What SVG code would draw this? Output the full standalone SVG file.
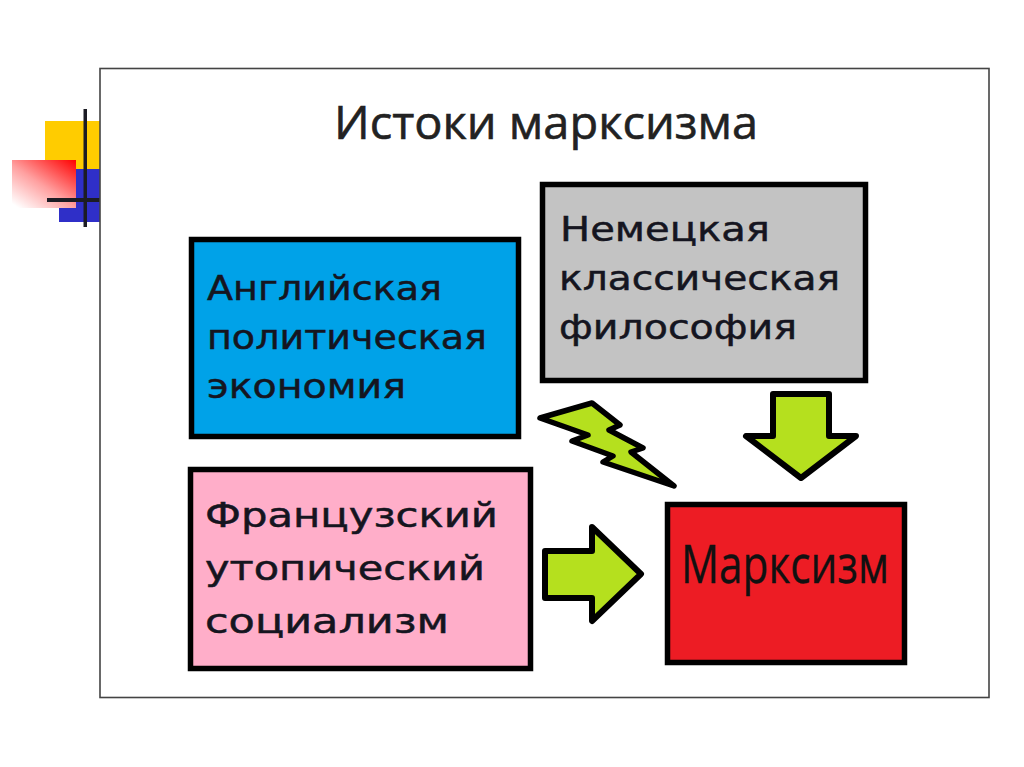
<svg xmlns="http://www.w3.org/2000/svg" width="1024" height="767" viewBox="0 0 1024 767">
<defs>
<linearGradient id="fade" x1="1" y1="0" x2="0.1" y2="1"><stop offset="0" stop-color="#ff0000"/><stop offset="0.55" stop-color="#ffa0a0"/><stop offset="1" stop-color="#ffffff"/></linearGradient>
</defs>
<style>
.box{stroke:#000;stroke-width:5.500}
.arrow{fill:#b5e01e;stroke:#000;stroke-width:6;stroke-linejoin:round}
.t{font-family:"DejaVu Sans","Open Sans",sans-serif;font-size:34.500px;fill:#151520;stroke:#151520;stroke-width:.5}
.bar{fill:#1c1c24}
</style>
<rect width="1024" height="767" fill="#fff"/>
<g id="decor">
<rect x="45" y="121" width="55" height="48" fill="#ffcc00"/>
<rect x="59" y="169" width="41" height="53" fill="#2f2fc8"/>
<rect x="12" y="160" width="64" height="48" fill="url(#fade)"/>
<rect class="bar" x="83.500" y="109" width="3.500" height="118"/>
<rect class="bar" x="47" y="198" width="53" height="4"/>
</g>
<rect id="frame" x="100" y="68.500" width="889" height="629" fill="none" stroke="#444" stroke-width="1.600"/>
<text id="title" x="334" y="139" font-family="'Open Sans','Noto Sans',sans-serif" font-size="46" fill="#222" stroke="#222" stroke-width=".6" textLength="424" lengthAdjust="spacingAndGlyphs">Истоки марксизма</text>
<g id="connectors">
<path class="arrow" d="M773 394H829V436H856L801 478L746 436H773Z"/>
<path class="arrow" d="M545 551H592V527L641 574L592 621V598H545Z"/>
<path class="arrow" d="M540 418L592 403L620 425L609 430L643 448L631 452L674 486L603 462L613 456L572 441L588 435Z" style="stroke-width:5.500"/>
</g>
<g id="node-english">
<rect class="box" x="191.500" y="239.500" width="327" height="197" fill="#00a2e8"/>
<text class="t" x="207" y="300" textLength="235" lengthAdjust="spacingAndGlyphs">Английская</text>
<text class="t" x="207" y="349" textLength="280" lengthAdjust="spacingAndGlyphs">политическая</text>
<text class="t" x="207" y="398" textLength="199" lengthAdjust="spacingAndGlyphs">экономия</text>
</g>
<g id="node-german">
<rect class="box" x="542.500" y="184.500" width="323" height="196" fill="#c3c3c3"/>
<text class="t" x="560" y="241" textLength="210" lengthAdjust="spacingAndGlyphs">Немецкая</text>
<text class="t" x="559" y="290" textLength="281" lengthAdjust="spacingAndGlyphs">классическая</text>
<text class="t" x="559" y="339" textLength="238" lengthAdjust="spacingAndGlyphs">философия</text>
</g>
<g id="node-french">
<rect class="box" x="190.500" y="469.500" width="340" height="199" fill="#ffaec9"/>
<text class="t" x="205" y="527" textLength="293" lengthAdjust="spacingAndGlyphs">Французский</text>
<text class="t" x="205" y="580" textLength="280" lengthAdjust="spacingAndGlyphs">утопический</text>
<text class="t" x="205" y="633" textLength="244" lengthAdjust="spacingAndGlyphs">социализм</text>
</g>
<g id="node-marxism">
<rect class="box" x="667.500" y="504.500" width="237" height="158" fill="#ed1c24"/>
<text x="681" y="583" font-family="'Open Sans','Noto Sans',sans-serif" font-size="53" fill="#111" stroke="#111" stroke-width=".3" textLength="208" lengthAdjust="spacingAndGlyphs">Марксизм</text>
</g>
</svg>
